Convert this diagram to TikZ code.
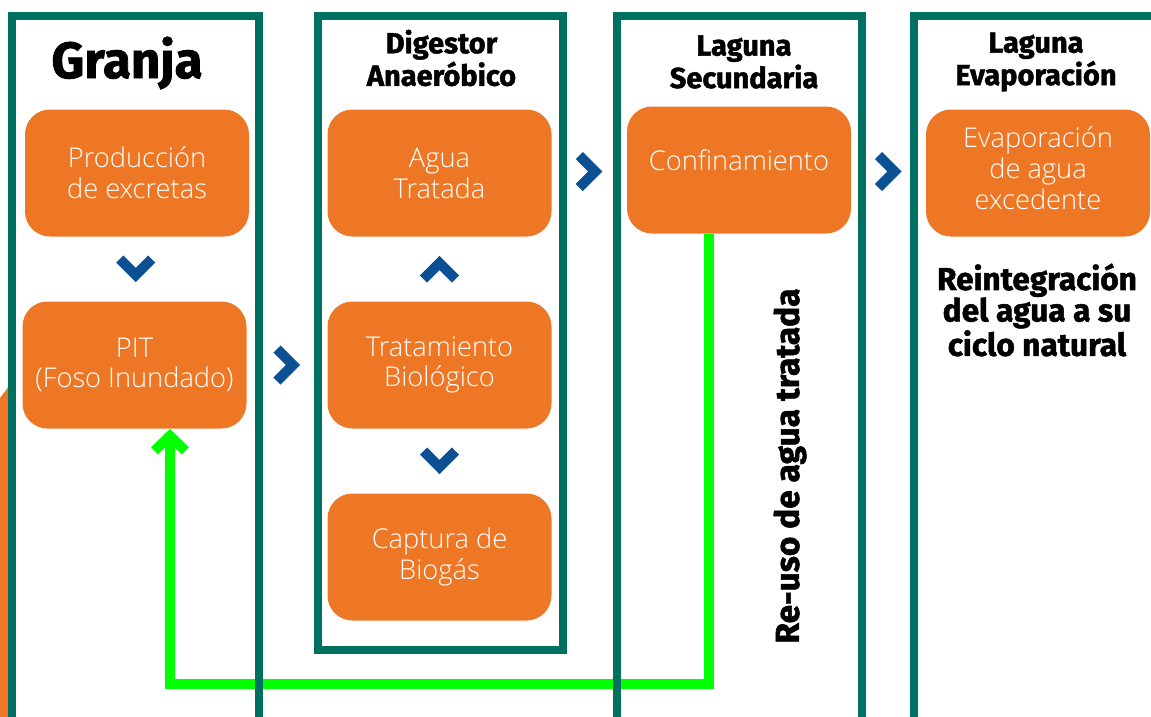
\documentclass[tikz,border=0pt]{standalone}
\usepackage{fontspec}
\setmainfont{Open Sans}[UprightFont=* Light]
\newfontfamily\headfont{Fira Sans}[BoldFeatures={FakeBold=1.6}]
\usepackage{tikz}
\tikzset{>=latex}
\usetikzlibrary{arrows.meta, calc}

\definecolor{framegreen}{RGB}{0,112,96}
\definecolor{boxorange}{RGB}{238,119,37}
\definecolor{chevblue}{RGB}{12,80,148}
\definecolor{reuselime}{RGB}{0,255,0}

\tikzset{
    colframe/.style={draw=framegreen, line width=0.16cm},
    stage/.style={fill=boxorange, rounded corners=0.5cm, minimum width=4.48cm, minimum height=2.54cm,
        inner sep=0pt, align=center, text=white, font=\fontsize{15.5}{17.5}\selectfont},
    heading/.style={align=center, font=\headfont\bfseries\fontsize{16.5}{18.5}\selectfont},
    chev/.style={draw=chevblue, line width=0.2cm},
    reuse/.style={draw=reuselime, line width=0.2cm, -{Straight Barb[length=0.3cm, width=0.62cm]}}
}

\begin{document}
\begin{tikzpicture}
    \useasboundingbox (0,0) rectangle (23.02,-14.34);

    % strip on the left edge
    \fill[boxorange] (0,-7.96) -- (0.18,-7.72) -- (0.18,-14.34) -- (0,-14.34) -- cycle;

    % headings
    \node[heading, font=\headfont\bfseries\fontsize{29}{32}\selectfont] (granja) at (2.54,-1.26) {Granja};
    \node[heading] (digestor) at (8.83,-1.16) {Digestor\\Anaeróbico};
    \node[heading] (lagsec) at (14.88,-1.24) {Laguna\\Secundaria};
    \node[heading] (lagevap) at (20.72,-1.24) {Laguna\\Evaporación};
    \node[heading, font=\headfont\bfseries\fontsize{18}{17.9}\selectfont] (reint) at (20.74,-6.2) {Reintegración\\del agua a su\\ciclo natural};
    \node[heading, font=\headfont\bfseries\fontsize{19}{21}\selectfont, rotate=90] (reuso) at (15.8,-9.32) {Re-uso de agua tratada};

    % stages
    \node[stage] (prod) at (2.74,-3.46) {Producción\\de excretas};
    \node[stage] (pit) at (2.69,-7.30) {PIT\\(Foso Inundado)};
    \node[stage] (agua) at (8.79,-3.46) {Agua\\Tratada};
    \node[stage] (trat) at (8.79,-7.30) {Tratamiento\\Biológico};
    \node[stage] (biogas) at (8.79,-11.14) {Captura de\\Biogás};
    \node[stage, text depth=0.38cm] (conf) at (14.78,-3.40) {Confinamiento};
    \node[stage, text depth=0.2cm] (evap) at (20.76,-3.46) {Evaporación\\de agua\\excedente};

    % chevrons between stages
    \foreach \a/\b/\r in {prod/pit/-90, pit/trat/0, trat/agua/90, trat/biogas/-90, agua/conf/0, conf/evap/0}{
        \draw[chev, shift={($(\a)!0.5!(\b)$)}, rotate=\r] (-0.2,0.32) -- (0.12,0) -- (-0.2,-0.32);
    }

    % re-use of treated water
    \coordinate (ret) at (3.4,-13.68);
    \draw[reuse] ([xshift=-0.6cm]conf.south) |- (ret) -- (ret |- pit.south);

    % column frames
    \draw[colframe] (0.24,-14.4) -- (0.24,-0.32) -- (5.18,-0.32) -- (5.18,-14.4);
    \draw[colframe] (6.36,-0.32) rectangle (11.26,-13.0);
    \draw[colframe] (12.34,-14.4) -- (12.34,-0.32) -- (17.24,-0.32) -- (17.24,-14.4);
    \draw[colframe] (18.28,-14.4) -- (18.28,-0.32) -- (23.1,-0.32);
\end{tikzpicture}
\end{document}
